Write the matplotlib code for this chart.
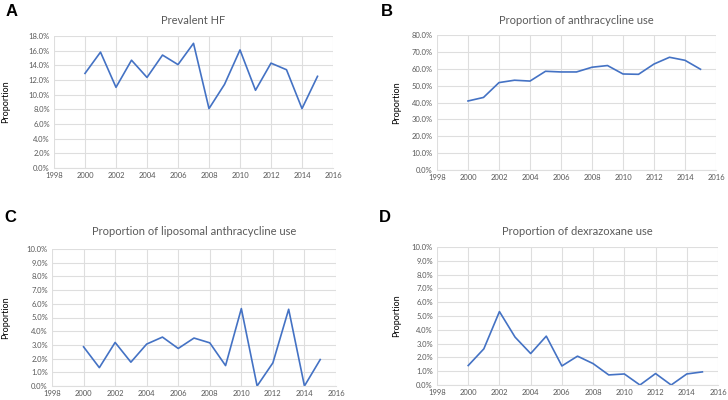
import numpy as np
import matplotlib
matplotlib.use("Agg")
from matplotlib import pyplot as plt
from matplotlib.ticker import FuncFormatter, MultipleLocator

plt.rcParams['font.family'] = ['Lato', 'DejaVu Sans']

years = list(range(2000, 2016))

prevalent_hf = [12.9, 15.8, 11.0, 14.7, 12.35, 15.4, 14.1, 17.0,
                8.1, 11.4, 16.1, 10.6, 14.3, 13.4, 8.1, 12.5]
anthracycline = [40.9, 43.0, 51.8, 53.2, 52.7, 58.5, 58.1, 58.1,
                 60.9, 61.9, 56.9, 56.7, 62.8, 66.8, 65.0, 59.7]
liposomal = [2.86, 1.34, 3.18, 1.74, 3.06, 3.57, 2.74, 3.5,
             3.15, 1.49, 5.65, 0.0, 1.69, 5.6, 0.0, 1.93]
dexrazoxane = [1.41, 2.62, 5.32, 3.47, 2.28, 3.54, 1.38, 2.09,
               1.55, 0.73, 0.8, 0.0, 0.83, 0.0, 0.8, 0.95]

titles = ["Prevalent HF", "Proportion of anthracycline use",
          "Proportion of liposomal anthracycline use", "Proportion of dexrazoxane use"]
letters = ["A", "B", "C", "D"]
series = [prevalent_hf, anthracycline, liposomal, dexrazoxane]
ymax = [18, 80, 10, 10]
ystep = [2, 10, 1, 1]

# axes rectangles in pixels: left, top, right, bottom
boxes = [(54, 36, 333, 168), (437, 35, 716, 170), (52, 249, 336, 386), (437, 247, 718, 385)]
title_y = [20, 20, 232, 232]
letter_xy = [(6, 12), (381, 12), (4, 217), (379, 217)]
ylabel_x = [6, 397, 6, 397]

W, H = 728, 400
fig = plt.figure(figsize=(W / 100, H / 100), dpi=100)

line_color = "#4472C4"
grid_color = "#DEDEDE"
text_color = "#595959"

for i in range(4):
    l, t, r, b = boxes[i]
    ax = fig.add_axes([l / W, 1 - b / H, (r - l) / W, (b - t) / H])
    ax.plot(years, series[i], color=line_color, lw=1.2)
    ax.set_xlim(1998, 2016)
    ax.set_ylim(0, ymax[i])
    ax.xaxis.set_major_locator(MultipleLocator(2))
    ax.yaxis.set_major_locator(MultipleLocator(ystep[i]))
    ax.yaxis.set_major_formatter(FuncFormatter(lambda v, p: f"{v:.1f}%"))
    ax.grid(True, color=grid_color, lw=0.8)
    ax.set_axisbelow(True)
    for s in ["top", "right", "left"]:
        ax.spines[s].set_visible(False)
    ax.spines["bottom"].set_color(grid_color)
    ax.tick_params(length=0, labelsize=5.5, labelcolor=text_color, pad=3)
    fig.text((l + r) / 2 / W, 1 - title_y[i] / H, titles[i], ha="center", va="center",
             fontsize=8, color=text_color)
    fig.text(letter_xy[i][0] / W, 1 - letter_xy[i][1] / H, letters[i], ha="left", va="center",
             fontsize=12, fontweight="bold", family=["Liberation Sans", "DejaVu Sans"])
    fig.text(ylabel_x[i] / W, 1 - (t + b) / 2 / H, "Proportion", rotation=90,
             ha="center", va="center", fontsize=6.5, color="black")

fig.savefig("out.png", dpi=100)
